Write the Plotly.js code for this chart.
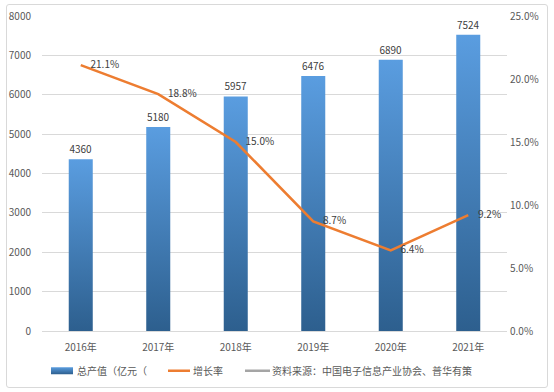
<!DOCTYPE html>
<html><head><meta charset="utf-8">
<script src="https://cdn.plot.ly/plotly-3.0.1.min.js"></script>
<style>
html,body{margin:0;padding:0;background:#fff;}
#frame{position:absolute;left:6px;top:4px;width:540px;height:382px;border:1px solid #d9d9d9;border-radius:3px;}
#chart{position:absolute;left:0;top:0;width:554px;height:392px;}
</style></head>
<body>
<div id="frame"></div>
<div id="chart"></div>
<script>
const years = ['2016年','2017年','2018年','2019年','2020年','2021年'];
const output = [4360, 5180, 5957, 6476, 6890, 7524];
const growth = [21.1, 18.8, 15.0, 8.7, 6.4, 9.2];
const seriesNames = ['总产值（亿元（', '增长率', '资料来源：中国电子信息产业协会、普华有策'];

const font = "'Noto Sans CJK SC', 'DejaVu Sans', sans-serif";
const traces = [
  {type:'bar', x:years, y:output, name:seriesNames[0], marker:{color:'#4a84bd'},
   text:output.map(String), textposition:'outside', cliponaxis:false,
   textfont:{size:10,color:'#404040',family:font}, hoverinfo:'x+y'},
  {type:'scatter', mode:'lines+markers+text', x:years, y:growth, yaxis:'y2', name:seriesNames[1],
   line:{color:'#ed7d31', width:2.6}, marker:{size:14, color:'rgba(0,0,0,0)', line:{width:0}},
   text:growth.map(v=>v.toFixed(1)+'%'),
   textposition:'middle right', textfont:{size:10,color:'#404040',family:font}, cliponaxis:false},
  {type:'scatter', mode:'lines', x:[null], y:[null], name:seriesNames[2],
   line:{color:'#a5a5a5', width:2.6}, showlegend:true}
];
const layout = {
  width:554, height:392, margin:{l:42, r:47, t:16, b:61, autoexpand:false},
  paper_bgcolor:'rgba(0,0,0,0)', plot_bgcolor:'rgba(0,0,0,0)',
  font:{family:font, size:10, color:'#595959'},
  bargap:0.69, showlegend:true,
  legend:{orientation:'h', x:0.46, xanchor:'center', y:-0.08, yanchor:'top',
          font:{size:10,color:'#595959'}, itemwidth:30, traceorder:'normal'},
  xaxis:{type:'category', showgrid:false, showline:true, linecolor:'#d9d9d9', ticks:'',
         tickfont:{size:10,color:'#595959'}, zeroline:false, automargin:false, ticklabelstandoff:7},
  yaxis:{range:[0,8000], dtick:1000, showgrid:true, gridcolor:'#d9d9d9', zeroline:false,
         ticks:'', tickfont:{size:10,color:'#595959'}, showline:false, automargin:false, ticklabelstandoff:10},
  yaxis2:{range:[0,25], dtick:5, overlaying:'y', side:'right', showgrid:false, zeroline:false,
          ticksuffix:'%', tickformat:'.1f', tickfont:{size:10,color:'#595959'}, ticks:'', showline:false, automargin:false, ticklabelstandoff:2}
};
Plotly.newPlot('chart', traces, layout, {displayModeBar:false, staticPlot:true}).then(gd=>{
  const svg = gd.querySelector('svg.main-svg');
  const ns='http://www.w3.org/2000/svg';
  let defs = svg.querySelector('defs');
  if(!defs){defs=document.createElementNS(ns,'defs');svg.insertBefore(defs,svg.firstChild);}
  const g=document.createElementNS(ns,'linearGradient');
  g.setAttribute('id','barGrad'); g.setAttribute('x1','0'); g.setAttribute('y1','0');
  g.setAttribute('x2','0'); g.setAttribute('y2','1');
  g.setAttribute('gradientUnits','objectBoundingBox');
  [['0','#5a9de0'],['1','#2d5f8e']].forEach(([o,c])=>{
    const s=document.createElementNS(ns,'stop'); s.setAttribute('offset',o); s.setAttribute('stop-color',c); g.appendChild(s);
  });
  defs.appendChild(g);
  gd.querySelectorAll('.bars path').forEach(p=>{p.style.fill='url(#barGrad)';});
  // legend styling and placement
  const textTargets = [77, 193, 272];
  const linePaths = [null, 'M15,0h22', 'M13,0h25'];
  gd.querySelectorAll('.legend .traces').forEach((tg, i)=>{
    tg.querySelectorAll('.legendpoints path').forEach(p=>{
      if(p.classList.contains('legendundefined')){
        p.setAttribute('d','M-6,-3.5h22v7h-22z');
        p.style.fill='url(#barGrad)'; p.style.stroke='none';
      }
    });
    if(linePaths[i]) tg.querySelectorAll('.legendlines path').forEach(p=>p.setAttribute('d', linePaths[i]));
    const txt = tg.querySelector('text.legendtext');
    if(txt && textTargets[i]!==undefined){
      const dx = textTargets[i] - txt.getBoundingClientRect().left;
      const tr = tg.getAttribute('transform')||'translate(0,0)';
      const m = tr.match(/translate\(\s*([-\d.e]+)[ ,]+([-\d.e]+)\s*\)/);
      if(m) tg.setAttribute('transform', 'translate('+(parseFloat(m[1])+dx)+','+m[2]+')');
    }
  });
});
</script>
</body></html>
